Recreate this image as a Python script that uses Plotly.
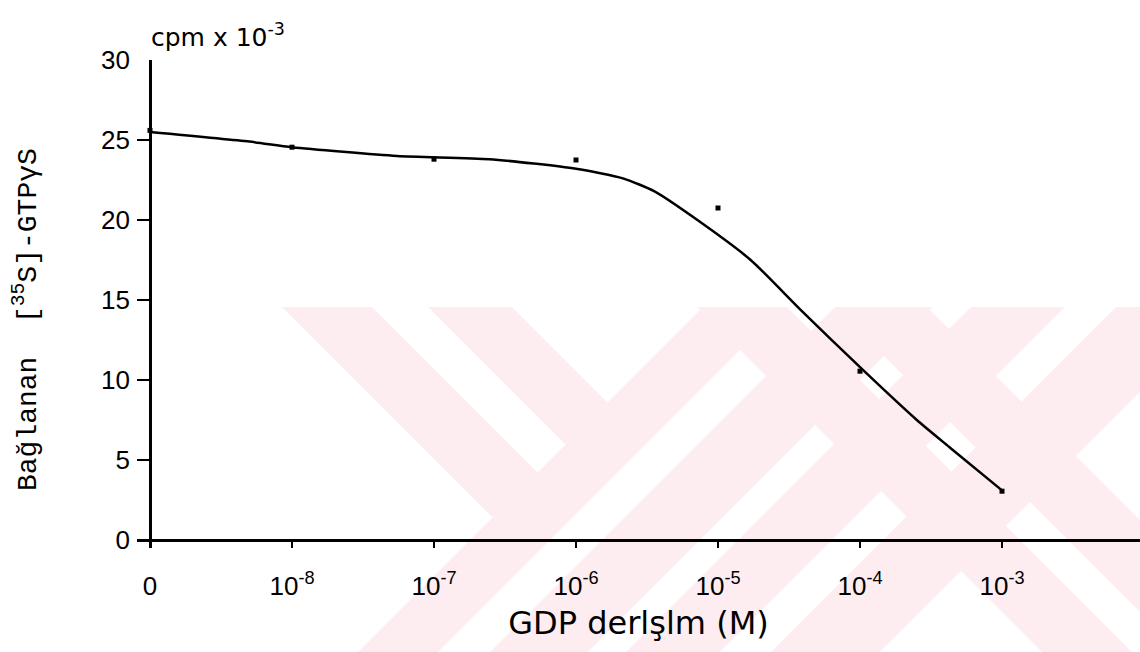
import plotly.graph_objects as go

# ---------------- data ----------------
conc_pos = [0, 1, 2, 3, 4, 5, 6]
conc_labels = ["0", "10<sup>-8</sup>", "10<sup>-7</sup>", "10<sup>-6</sup>",
               "10<sup>-5</sup>", "10<sup>-4</sup>", "10<sup>-3</sup>"]
bound_cpm = [25.6, 24.55, 23.8, 23.75, 20.75, 10.55, 3.05]

fit_pos = [0, 0.7, 1.0, 1.74, 2.39, 3.0, 3.33, 3.55, 3.87, 4.23, 4.58, 5.0, 5.4, 5.63, 6.0]
fit_cpm = [25.5, 24.9, 24.55, 24.0, 23.8, 23.2, 22.6, 21.8, 19.9, 17.5, 14.4, 10.8, 7.5, 5.8, 3.1]

y_ticks = [0, 5, 10, 15, 20, 25, 30]

# ---------------- page geometry ----------------
W, H = 1140, 652
L, R, T, B = 137, 0, 60, 104
PW, PH = W - L - R, H - T - B

def px(X):
    return (X - L) / PW

def py(Y):
    return (H - B - Y) / PH

# ---------------- faint background watermark ----------------
def clip(poly, a, b, c):
    out = []
    n = len(poly)
    for i in range(n):
        p, q = poly[i], poly[(i + 1) % n]
        fp = a * p[0] + b * p[1] - c
        fq = a * q[0] + b * q[1] - c
        if fp <= 0:
            out.append(p)
        if (fp < 0 < fq) or (fq < 0 < fp):
            t = fp / (fp - fq)
            out.append((p[0] + t * (q[0] - p[0]), p[1] + t * (q[1] - p[1])))
    return out

rect = [(0, 307), (1140, 307), (1140, 652), (0, 652)]
stripes = [
    [("s", 1010, 1090)],
    [("s", 1142, 1240)],
    [("s", 1278, 1372)],
    [("s", 1423, 1532)],
    [("d", -25, 65), ("smax", 1010)],
    [("d", 121, 205), ("smax", 1010)],
    [("d", 390, 480)],
    [("d", 528, 620)],
]
wm_shapes = []
for st in stripes:
    poly = rect[:]
    for c in st:
        if c[0] == "s":
            poly = clip(poly, -1, -1, -c[1])
            poly = clip(poly, 1, 1, c[2])
        elif c[0] == "d":
            poly = clip(poly, -1, 1, -c[1])
            poly = clip(poly, 1, -1, c[2])
        elif c[0] == "smax":
            poly = clip(poly, 1, 1, c[1])
    if len(poly) < 3:
        continue
    path = "M " + " L ".join(f"{px(x):.5f},{py(y):.5f}" for x, y in poly) + " Z"
    wm_shapes.append(dict(type="path", path=path, xref="paper", yref="paper",
                          fillcolor="#fdedf0", line=dict(width=0), layer="below"))

# ---------------- figure ----------------
fig = go.Figure()
fig.add_trace(go.Scatter(
    x=fit_pos, y=fit_cpm, mode="lines",
    line=dict(color="black", width=2.5, shape="spline", smoothing=0.6),
    hoverinfo="skip", showlegend=False))
fig.add_trace(go.Scatter(
    x=conc_pos, y=bound_cpm, mode="markers",
    marker=dict(symbol="square", size=5, color="black"),
    showlegend=False))

x_lo = -(150 - L) / 142.0
x_hi = (W - R - 150) / 142.0
y_lo = -(H - B - 540) / 16.0

fig.update_layout(
    width=W, height=H, autosize=False,
    margin=dict(l=L, r=R, t=T, b=B, pad=0),
    paper_bgcolor="white", plot_bgcolor="rgba(0,0,0,0)",
    shapes=wm_shapes,
    xaxis=dict(
        range=[x_lo, x_hi], tickmode="array", tickvals=conc_pos, ticktext=conc_labels,
        ticks="inside", ticklen=8, tickwidth=2, tickcolor="black",
        showline=False, showgrid=False, zeroline=True, zerolinecolor="black", zerolinewidth=2.5,
        tickfont=dict(family="Liberation Sans, Arial", size=26, color="black"),
        ticklabelstandoff=20,
        title=dict(text="GDP derlşlm (M)", standoff=11,
                   font=dict(family="DejaVu Sans", size=32, color="black")),
        fixedrange=True),
    yaxis=dict(
        range=[y_lo, 30], tickmode="array", tickvals=y_ticks,
        ticktext=[str(v) for v in y_ticks],
        ticks="inside", ticklen=13, tickwidth=2, tickcolor="black",
        showline=False, showgrid=False, zeroline=True, zerolinecolor="black", zerolinewidth=2.5,
        tickfont=dict(family="Liberation Sans, Arial", size=26, color="black"),
        ticklabelstandoff=6, fixedrange=True),
    annotations=[
        dict(text="cpm x 10<sup>-3</sup>", xref="paper", yref="paper",
             x=px(149), y=py(54), xanchor="left", yanchor="bottom", showarrow=False,
             font=dict(family="DejaVu Sans", size=25, color="black")),
        dict(text="Bağlanan  [<sup>35</sup>S]-GTPγS", xref="paper", yref="paper",
             x=px(26), y=py(320), xanchor="center", yanchor="middle", textangle=-90,
             showarrow=False,
             font=dict(family="Liberation Mono, Courier New, monospace", size=28, color="black")),
    ],
)

fig.write_html("out.html")
